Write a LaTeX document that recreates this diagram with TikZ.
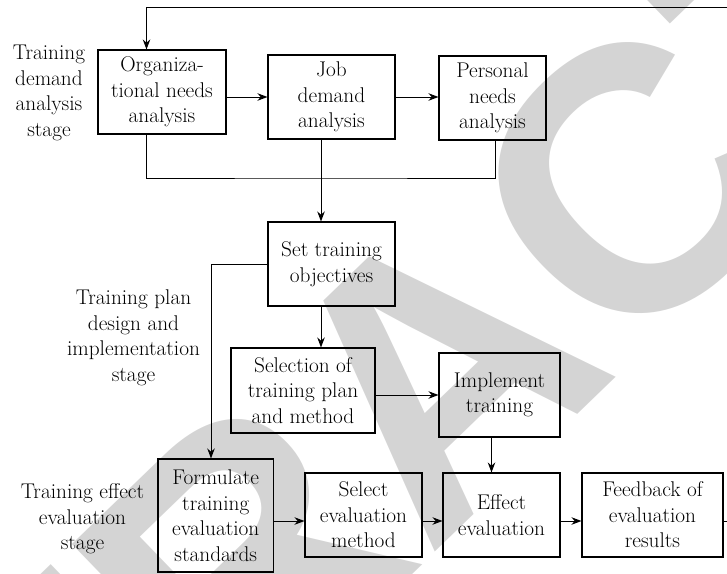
\documentclass[tikz,border=0pt]{standalone}
\usepackage{fontspec}
\newfontfamily\wmfont{Liberation Sans}
\usetikzlibrary{arrows.meta,positioning}
\definecolor{wmgray}{RGB}{212,212,212}

\tikzset{
  box/.style={draw, line width=1.1pt, align=center, inner sep=2pt, minimum height=84pt},
  stagelabel/.style={align=center},
  link/.style={->, line width=1pt},
}

\begin{document}
\begin{tikzpicture}[x=1pt, y=-1pt, font=\fontsize{21.3}{25.5}\selectfont,
    >={Stealth[length=10pt,width=7.5pt]}]

    \useasboundingbox (0,0) rectangle (727,573);
    \clip (0,0) rectangle (727,573);

    % Watermark
    \node[wmgray, rotate=44, inner sep=0,
        font=\wmfont\bfseries\fontsize{375}{375}\selectfont] (stamp) at (436,372) {RETRACTED};

    % Stage labels
    \node[stagelabel] (demandstage) at (49,93) {Training\\demand\\analysis\\stage};
    \node[stagelabel] (planstage) at (133.5,338) {Training plan\\design and\\implementation\\stage};
    \node[stagelabel] (effectstage) at (82.5,519) {Training effect\\evaluation\\stage};

    % Demand analysis boxes
    \node[box, minimum width=128pt] (org) at (162,92) {Organiza-\\tional needs\\analysis};
    \node[box, minimum width=127pt] (job) at (331.5,97) {Job\\demand\\analysis};
    \node[box, minimum width=107pt] (pers) at (492.5,98) {Personal\\needs\\analysis};

    % Plan design and implementation boxes
    \node[box, minimum width=127pt] (obj) at (331.5,264) {Set training\\objectives};
    \node[box, minimum width=144pt, minimum height=85pt] (sel) at (303,390.5) {Selection of\\training plan\\and method};
    \node[box, minimum width=121pt] (impl) at (499.5,395) {Implement\\training};

    % Effect evaluation boxes
    \node[box, minimum width=115.5pt, minimum height=113pt] (form) at (215.75,515.5) {Formulate\\training\\evaluation\\standards};
    \node[box, minimum width=117pt] (seleval) at (363.5,515) {Select\\evaluation\\method};
    \node[box, minimum width=117pt] (effect) at (501.5,515) {Effect\\evaluation};
    \node[box, minimum width=141pt] (feed) at (652.5,515) {Feedback of\\evaluation\\results};

    \coordinate (merge) at (321,178);
    \coordinate (row) at (0,521);
    \coordinate (loop) at (740,7);

    % Connectors
    \draw[link] (org.east |- job.west) -- (job.west);
    \draw[link] (job.east) -- (job.east -| pers.west);
    \draw[line width=1pt] ([xshift=-15.5pt]org.south) |- (merge) -| ([xshift=2.5pt]pers.south);
    \draw[link] ([xshift=-10.5pt]job.south) -- ([xshift=-10.5pt]obj.north);
    \draw[link] ([xshift=-10.5pt]obj.south) -- ([xshift=-10.5pt]obj.south |- sel.north);
    \draw[link] (obj.west) -| ([xshift=-4.75pt]form.north);
    \draw[link] (sel.east |- impl.west) -- (impl.west);
    \draw[link] ([xshift=-8pt]impl.south) -- ([xshift=-8pt]impl.south |- effect.north);
    \draw[link] (form.east |- row) -- (seleval.west |- row);
    \draw[link] (seleval.east |- row) -- (effect.west |- row);
    \draw[link] (effect.east |- row) -- (feed.west |- row);

    % Feedback loop
    \draw[link] (feed.east |- row) -| (loop) -| ([xshift=-15.5pt]org.north);

\end{tikzpicture}
\end{document}
